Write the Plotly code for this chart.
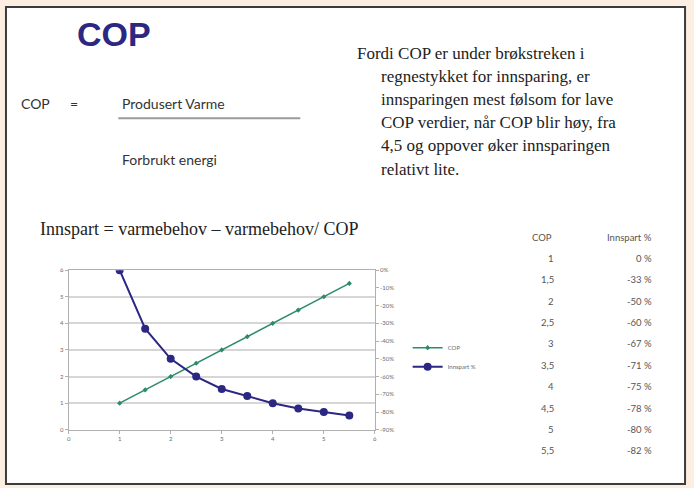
import plotly.graph_objects as go

# Data: coefficient of performance and resulting saving
cop = [1, 1.5, 2, 2.5, 3, 3.5, 4, 4.5, 5, 5.5]
innspart = [0.00, -0.33, -0.50, -0.60, -0.67, -0.71, -0.75, -0.78, -0.80, -0.82]
cop_labels = ["1", "1,5", "2", "2,5", "3", "3,5", "4", "4,5", "5", "5,5"]

left_ticks = [0, 1, 2, 3, 4, 5, 6]
right_ticks = [0, -0.1, -0.2, -0.3, -0.4, -0.5, -0.6, -0.7, -0.8, -0.9]
x_ticks = [0, 1, 2, 3, 4, 5, 6]

W, H = 694, 488


def px(x):
    return x / W


def py(y):
    return 1 - y / H


NAVY = "#2b2783"
GREEN = "#2e8b6a"
GRID = "#d6d6d6"
AXIS_TXT = "#6a6a6a"

fig = go.Figure()
fig.add_trace(go.Scatter(
    x=cop, y=cop, name="COP", mode="lines+markers",
    line=dict(color=GREEN, width=1.5),
    marker=dict(color=GREEN, size=4, symbol="diamond"),
))
fig.add_trace(go.Scatter(
    x=cop, y=innspart, name="Innspart %", mode="lines+markers", yaxis="y2",
    line=dict(color=NAVY, width=2),
    marker=dict(color=NAVY, size=8, symbol="circle"),
))

tick_font = dict(family="Lato, Liberation Sans, sans-serif", size=6, color=AXIS_TXT)

fig.update_layout(
    width=W, height=H,
    margin=dict(l=0, r=0, t=0, b=0),
    paper_bgcolor="#fdeee2",
    plot_bgcolor="white",
    showlegend=True,
    legend=dict(
        x=px(408), y=py(334), xanchor="left", yanchor="top",
        font=dict(family="Lato, Liberation Sans, sans-serif", size=6, color=AXIS_TXT),
        bgcolor="rgba(0,0,0,0)", itemwidth=30, tracegroupgap=2,
    ),
    xaxis=dict(
        domain=[px(67), px(375)], range=[0, 6], tickvals=x_ticks,
        showgrid=False, zeroline=False, showline=True, linecolor="#b0b0b0",
        linewidth=1, mirror=True, ticks="outside", ticklen=3, tickcolor="#b0b0b0",
        tickfont=tick_font,
    ),
    yaxis=dict(
        domain=[py(432), py(270)], range=[0, 6], tickvals=left_ticks,
        showgrid=True, gridcolor=GRID, gridwidth=1.5, zeroline=False,
        showline=True, linecolor="#b0b0b0", linewidth=1, mirror=True,
        ticks="outside", ticklen=3, tickcolor="#b0b0b0", tickfont=tick_font,
    ),
    yaxis2=dict(
        overlaying="y", side="right", range=[-0.9, 0], tickvals=right_ticks,
        ticktext=[f"{round(v * 100)}%" for v in right_ticks],
        showgrid=False, zeroline=False, showline=False,
        ticks="outside", ticklen=3, tickcolor="#b0b0b0", tickfont=tick_font,
    ),
)

# White slide panel with dark frame
fig.add_shape(type="rect", xref="paper", yref="paper", layer="below",
              x0=px(4), x1=px(687), y0=py(487), y1=py(3),
              fillcolor="white", line=dict(color="#3c3c3c", width=2))

ann = []
# Title
ann.append(dict(text="<b>COP</b>", x=px(73), y=py(30), xanchor="left", yanchor="middle",
                font=dict(family="Liberation Sans, Arial, sans-serif", size=34, color=NAVY)))
# Formula for COP
cal = "Lato, Liberation Sans, sans-serif"
ann.append(dict(text="COP", x=px(17), y=py(101), xanchor="left", yanchor="middle",
                font=dict(family=cal, size=14, color="#333333")))
ann.append(dict(text="=", x=px(66), y=py(101), xanchor="left", yanchor="middle",
                font=dict(family=cal, size=14, color="#333333")))
ann.append(dict(text="Produsert Varme", x=px(119), y=py(101), xanchor="left", yanchor="middle",
                font=dict(family=cal, size=14, color="#333333")))
ann.append(dict(text="Forbrukt energi", x=px(119), y=py(158), xanchor="left", yanchor="middle",
                font=dict(family=cal, size=14, color="#333333")))
fig.add_shape(type="line", xref="paper", yref="paper", x0=px(117), x1=px(300),
              y0=py(116), y1=py(116), line=dict(color="#9a9a9a", width=2))

# Explanatory paragraph
serif = "Liberation Serif, Times New Roman, serif"
para = [
    (355, "Fordi COP er under brøkstreken i"),
    (379, "regnestykket for innsparing, er"),
    (379, "innsparingen mest følsom for lave"),
    (379, "COP verdier, når COP blir høy, fra"),
    (379, "4,5 og oppover øker innsparingen"),
    (379, "relativt lite."),
]
for i, (x0, line) in enumerate(para):
    ann.append(dict(text=line, x=px(x0), y=py(50 + i * 23.5), xanchor="left", yanchor="middle",
                    font=dict(family=serif, size=17, color="#222222")))

ann.append(dict(text="Innspart = varmebehov – varmebehov/ COP", x=px(36), y=py(228),
                xanchor="left", yanchor="middle",
                font=dict(family=serif, size=18, color="#222222")))

# Value table
tfont = dict(family=cal, size=9.5, color="#555555")
ann.append(dict(text="COP", x=px(555), y=py(237), xanchor="right", yanchor="middle", font=tfont))
ann.append(dict(text="Innspart %", x=px(656), y=py(237), xanchor="right", yanchor="middle", font=tfont))
for i, (lab, v) in enumerate(zip(cop_labels, innspart)):
    yy = py(258 + i * 21.7)
    ann.append(dict(text=lab, x=px(557), y=yy, xanchor="right", yanchor="middle", font=tfont))
    ann.append(dict(text=f"{round(v * 100)} %", x=px(656), y=yy, xanchor="right",
                    yanchor="middle", font=tfont))

for a in ann:
    a.update(xref="paper", yref="paper", showarrow=False)
fig.update_layout(annotations=ann)

fig.write_html("out.html")
